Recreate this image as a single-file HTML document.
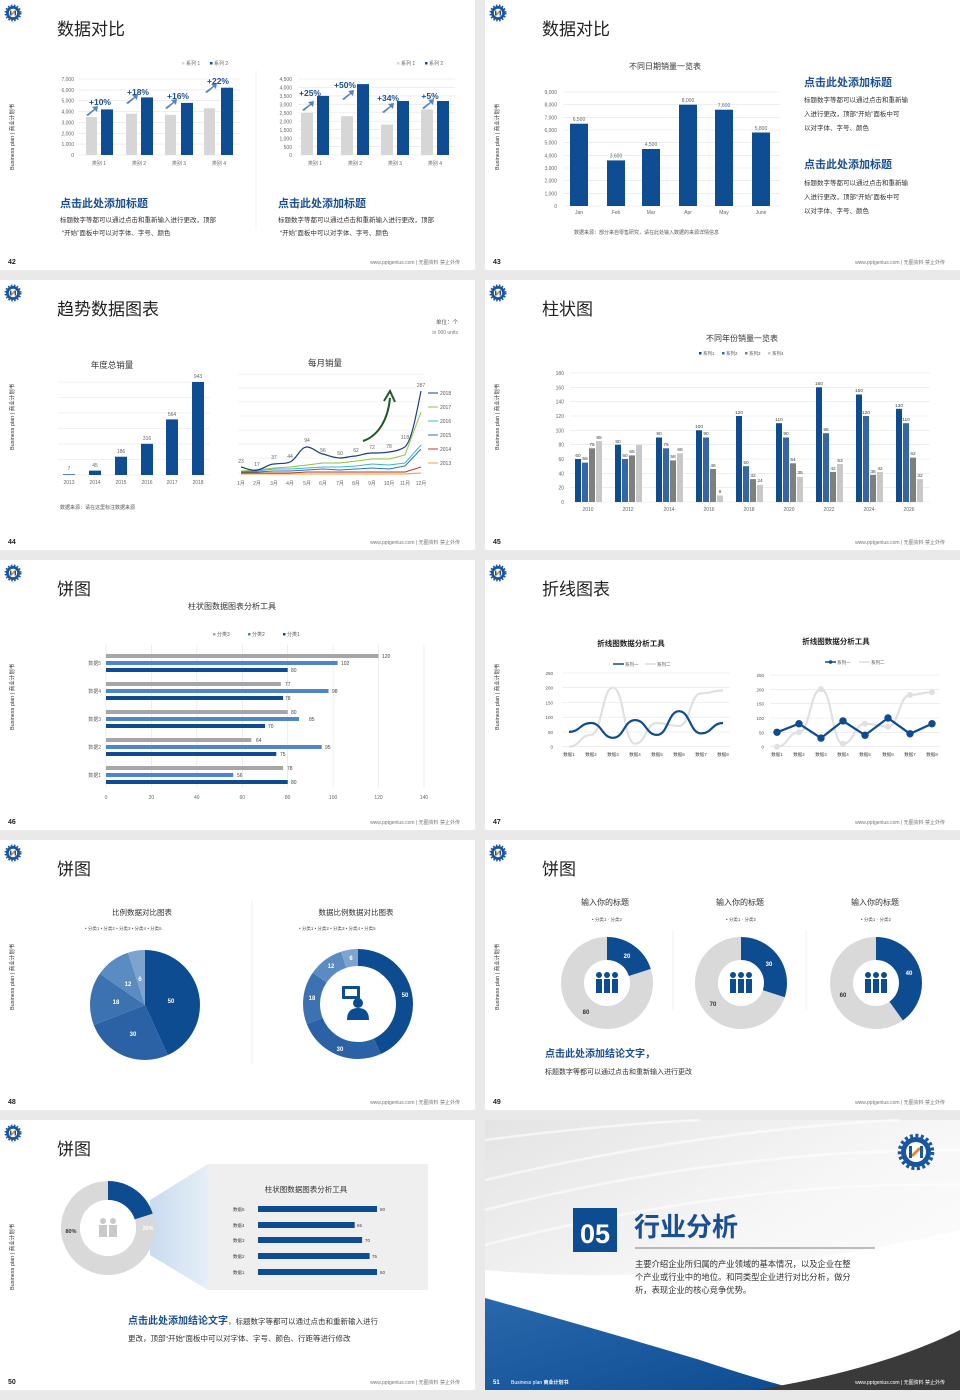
<!DOCTYPE html>
<html><head><meta charset="utf-8"><style>
html,body{margin:0;padding:0;background:#e9e9e9;}
svg{display:block;font-family:"Liberation Sans","Noto Sans CJK SC",sans-serif;}
.t{font-size:17px;fill:#222}
.f{font-size:5px;fill:#777}
.pn{font-size:7px;font-weight:bold;fill:#222}
.vt{font-size:5.5px;fill:#333}
.ax{font-size:5px;fill:#666}
.h{font-size:11px;font-weight:bold;fill:#1a4f94}
.p{font-size:6.5px;fill:#333}
.g{stroke:#e3e3e3;stroke-width:0.6}
</style></head><body>
<svg width="960" height="1400" viewBox="0 0 960 1400" xmlns="http://www.w3.org/2000/svg">
<defs>
<g id="logo"><circle cx="0" cy="0" r="7" fill="#1a56a0"/><circle cx="0" cy="0" r="7.5" fill="none" stroke="#1a56a0" stroke-width="2" stroke-dasharray="1.5 1.5"/><circle cx="0" cy="0" r="4.2" fill="#fff"/><path d="M-2 2 L2 -2" stroke="#e8882a" stroke-width="1.6"/><rect x="-3" y="-2.5" width="1.4" height="5" fill="#1a56a0"/><rect x="1.6" y="-2.5" width="1.4" height="5" fill="#1a56a0"/></g>
<linearGradient id="bg51" x1="0" y1="0" x2="1" y2="1"><stop offset="0" stop-color="#e4e4e4"/><stop offset="0.5" stop-color="#f7f7f7"/><stop offset="1" stop-color="#ffffff"/></linearGradient>
<linearGradient id="blu51" x1="0" y1="0" x2="1" y2="1"><stop offset="0" stop-color="#2a68ac"/><stop offset="1" stop-color="#0e4c92"/></linearGradient>
<linearGradient id="fan" x1="0" y1="0" x2="1" y2="0"><stop offset="0" stop-color="#c9dbef"/><stop offset="1" stop-color="#e6eef8"/></linearGradient>
</defs>

<rect x="0" y="0" width="475" height="270" fill="#fff"/>
<rect x="485" y="0" width="475" height="270" fill="#fff"/>
<rect x="0" y="280" width="475" height="270" fill="#fff"/>
<rect x="485" y="280" width="475" height="270" fill="#fff"/>
<rect x="0" y="560" width="475" height="270" fill="#fff"/>
<rect x="485" y="560" width="475" height="270" fill="#fff"/>
<rect x="0" y="840" width="475" height="270" fill="#fff"/>
<rect x="485" y="840" width="475" height="270" fill="#fff"/>
<rect x="0" y="1120" width="475" height="270" fill="#fff"/>
<rect x="485" y="1120" width="475" height="270" fill="url(#bg51)"/>

<use href="#logo" x="13" y="13"/><use href="#logo" x="498" y="13"/>
<use href="#logo" x="13" y="293"/><use href="#logo" x="498" y="293"/>
<use href="#logo" x="13" y="573"/><use href="#logo" x="498" y="573"/>
<use href="#logo" x="13" y="853"/><use href="#logo" x="498" y="853"/>
<use href="#logo" x="13" y="1133"/>

<text class="t" x="57" y="35">数据对比</text>
<text class="t" x="542" y="35">数据对比</text>
<text class="t" x="57" y="315">趋势数据图表</text>
<text class="t" x="542" y="315">柱状图</text>
<text class="t" x="57" y="595">饼图</text>
<text class="t" x="542" y="595">折线图表</text>
<text class="t" x="57" y="875">饼图</text>
<text class="t" x="542" y="875">饼图</text>
<text class="t" x="57" y="1155">饼图</text>

<g class="vt">
<text transform="translate(14,170) rotate(-90)">Business plan | 商业计划书</text>
<text transform="translate(499,170) rotate(-90)">Business plan | 商业计划书</text>
<text transform="translate(14,450) rotate(-90)">Business plan | 商业计划书</text>
<text transform="translate(499,450) rotate(-90)">Business plan | 商业计划书</text>
<text transform="translate(14,730) rotate(-90)">Business plan | 商业计划书</text>
<text transform="translate(499,730) rotate(-90)">Business plan | 商业计划书</text>
<text transform="translate(14,1010) rotate(-90)">Business plan | 商业计划书</text>
<text transform="translate(499,1010) rotate(-90)">Business plan | 商业计划书</text>
<text transform="translate(14,1290) rotate(-90)">Business plan | 商业计划书</text>
</g>

<g class="pn">
<text x="8" y="264">42</text><text x="493" y="264">43</text>
<text x="8" y="544">44</text><text x="493" y="544">45</text>
<text x="8" y="824">46</text><text x="493" y="824">47</text>
<text x="8" y="1104">48</text><text x="493" y="1104">49</text>
<text x="8" y="1384">50</text>
</g>
<g class="f" text-anchor="end">
<text x="460" y="264">www.pptgenius.com | 无图资料 禁止外传</text><text x="945" y="264">www.pptgenius.com | 无图资料 禁止外传</text>
<text x="460" y="544">www.pptgenius.com | 无图资料 禁止外传</text><text x="945" y="544">www.pptgenius.com | 无图资料 禁止外传</text>
<text x="460" y="824">www.pptgenius.com | 无图资料 禁止外传</text><text x="945" y="824">www.pptgenius.com | 无图资料 禁止外传</text>
<text x="460" y="1104">www.pptgenius.com | 无图资料 禁止外传</text><text x="945" y="1104">www.pptgenius.com | 无图资料 禁止外传</text>
<text x="460" y="1384">www.pptgenius.com | 无图资料 禁止外传</text>
</g>

<!-- ===== SLIDE 42 ===== -->
<g class="g">
<line x1="78" y1="79" x2="240" y2="79"/><line x1="78" y1="89.9" x2="240" y2="89.9"/><line x1="78" y1="100.7" x2="240" y2="100.7"/><line x1="78" y1="111.6" x2="240" y2="111.6"/><line x1="78" y1="122.4" x2="240" y2="122.4"/><line x1="78" y1="133.3" x2="240" y2="133.3"/><line x1="78" y1="144.1" x2="240" y2="144.1"/><line x1="78" y1="155" x2="240" y2="155"/>
<line x1="298" y1="79" x2="455" y2="79"/><line x1="298" y1="87.4" x2="455" y2="87.4"/><line x1="298" y1="95.9" x2="455" y2="95.9"/><line x1="298" y1="104.3" x2="455" y2="104.3"/><line x1="298" y1="112.8" x2="455" y2="112.8"/><line x1="298" y1="121.2" x2="455" y2="121.2"/><line x1="298" y1="129.7" x2="455" y2="129.7"/><line x1="298" y1="138.1" x2="455" y2="138.1"/><line x1="298" y1="146.6" x2="455" y2="146.6"/><line x1="298" y1="155" x2="455" y2="155"/>
</g>
<line x1="256" y1="70" x2="256" y2="230" stroke="#eee" stroke-width="0.8"/>
<g class="ax" text-anchor="end">
<text x="74" y="81">7,000</text><text x="74" y="92">6,000</text><text x="74" y="102.5">5,000</text><text x="74" y="113.5">4,000</text><text x="74" y="124.5">3,000</text><text x="74" y="135.3">2,000</text><text x="74" y="146">1,000</text><text x="74" y="157">0</text>
<text x="292" y="81">4,500</text><text x="292" y="89.5">4,000</text><text x="292" y="98">3,500</text><text x="292" y="106.5">3,000</text><text x="292" y="115">2,500</text><text x="292" y="123.5">2,000</text><text x="292" y="132">1,500</text><text x="292" y="140.5">1,000</text><text x="292" y="149">500</text><text x="292" y="157">0</text>
</g>
<g class="ax" text-anchor="middle">
<text x="99" y="165">类别 1</text><text x="139" y="165">类别 2</text><text x="179" y="165">类别 3</text><text x="219" y="165">类别 4</text>
<text x="315" y="165">类别 1</text><text x="355" y="165">类别 2</text><text x="395" y="165">类别 3</text><text x="435" y="165">类别 4</text>
</g>
<g fill="#d6d6d6">
<rect x="86" y="117" width="11" height="38"/><rect x="126" y="113.7" width="11" height="41.3"/><rect x="165" y="114.8" width="11" height="40.2"/><rect x="204" y="108.3" width="11" height="46.7"/>
<rect x="301" y="112.8" width="12" height="42.2"/><rect x="341" y="116.2" width="12" height="38.8"/><rect x="381" y="124.6" width="12" height="30.4"/><rect x="421" y="109.4" width="12" height="45.6"/>
</g>
<g fill="#0f4d93">
<rect x="101" y="109.4" width="12" height="45.6"/><rect x="141" y="97.4" width="12" height="57.6"/><rect x="181" y="102.9" width="12" height="52.1"/><rect x="221" y="87.7" width="12" height="67.3"/>
<rect x="317" y="95.9" width="12" height="59.1"/><rect x="357" y="84.1" width="12" height="70.9"/><rect x="397" y="101" width="12" height="54"/><rect x="437" y="101" width="12" height="54"/>
</g>
<g fill="#3a72b5" opacity="0.85">
<path d="M86 115 l8 -6 l-2 -2 l6 -1 l-1 6 l-2 -2 l-7 6z"/><path d="M126 103 l8 -6 l-2 -2 l6 -1 l-1 6 l-2 -2 l-7 6z"/><path d="M165 108 l8 -6 l-2 -2 l6 -1 l-1 6 l-2 -2 l-7 6z"/><path d="M205 92 l8 -6 l-2 -2 l6 -1 l-1 6 l-2 -2 l-7 6z"/>
<path d="M302 110 l8 -6 l-2 -2 l6 -1 l-1 6 l-2 -2 l-7 6z"/><path d="M342 99 l8 -6 l-2 -2 l6 -1 l-1 6 l-2 -2 l-7 6z"/><path d="M382 112 l8 -6 l-2 -2 l6 -1 l-1 6 l-2 -2 l-7 6z"/><path d="M422 108 l8 -6 l-2 -2 l6 -1 l-1 6 l-2 -2 l-7 6z"/>
</g>
<g font-size="8.5" font-weight="bold" fill="#1a4f94" text-anchor="middle">
<text x="100" y="105">+10%</text><text x="138" y="95">+18%</text><text x="178" y="99">+16%</text><text x="218" y="84">+22%</text>
<text x="310" y="96">+25%</text><text x="345" y="88">+50%</text><text x="388" y="101">+34%</text><text x="430" y="99">+5%</text>
</g>
<g font-size="5" fill="#666">
<rect x="182" y="62" width="2.5" height="2.5" fill="#d6d6d6"/><text x="186" y="65">系列 1</text><rect x="210" y="62" width="2.5" height="2.5" fill="#0f4d93"/><text x="214" y="65">系列 2</text>
<rect x="397" y="62" width="2.5" height="2.5" fill="#d6d6d6"/><text x="401" y="65">系列 1</text><rect x="425" y="62" width="2.5" height="2.5" fill="#0f4d93"/><text x="429" y="65">系列 2</text>
</g>
<text class="h" x="60" y="207">点击此处添加标题</text>
<text class="p" x="60" y="222">标题数字等都可以通过点击和重新输入进行更改，顶部</text>
<text class="p" x="62" y="235">“开始”面板中可以对字体、字号、颜色</text>
<text class="h" x="278" y="207">点击此处添加标题</text>
<text class="p" x="278" y="222">标题数字等都可以通过点击和重新输入进行更改，顶部</text>
<text class="p" x="280" y="235">“开始”面板中可以对字体、字号、颜色</text>

<!-- ===== SLIDE 43 ===== -->
<text x="665" y="69" font-size="8" fill="#333" text-anchor="middle">不同日期销量一览表</text>
<g class="g">
<line x1="563" y1="92" x2="780" y2="92"/><line x1="563" y1="104.7" x2="780" y2="104.7"/><line x1="563" y1="117.3" x2="780" y2="117.3"/><line x1="563" y1="130" x2="780" y2="130"/><line x1="563" y1="142.7" x2="780" y2="142.7"/><line x1="563" y1="155.3" x2="780" y2="155.3"/><line x1="563" y1="168" x2="780" y2="168"/><line x1="563" y1="180.7" x2="780" y2="180.7"/><line x1="563" y1="193.3" x2="780" y2="193.3"/><line x1="563" y1="206" x2="780" y2="206"/>
</g>
<g class="ax" text-anchor="end">
<text x="557" y="94">9,000</text><text x="557" y="106.7">8,000</text><text x="557" y="119.3">7,000</text><text x="557" y="132">6,000</text><text x="557" y="144.7">5,000</text><text x="557" y="157.3">4,000</text><text x="557" y="170">3,000</text><text x="557" y="182.7">2,000</text><text x="557" y="195.3">1,000</text><text x="557" y="208">0</text>
</g>
<g fill="#0f4d93">
<rect x="570" y="123.7" width="18" height="82.3"/><rect x="607" y="160.4" width="18" height="45.6"/><rect x="642" y="149" width="18" height="57"/><rect x="679" y="104.7" width="18" height="101.3"/><rect x="715" y="109.7" width="18" height="96.3"/><rect x="752" y="132.5" width="18" height="73.5"/>
</g>
<g class="ax" text-anchor="middle">
<text x="579" y="121">6,500</text><text x="616" y="157.5">3,600</text><text x="651" y="146">4,500</text><text x="688" y="102">8,000</text><text x="724" y="107">7,600</text><text x="761" y="130">5,800</text>
<text x="579" y="214">Jan</text><text x="616" y="214">Feb</text><text x="651" y="214">Mar</text><text x="688" y="214">Apr</text><text x="724" y="214">May</text><text x="761" y="214">June</text>
</g>
<text x="574" y="234" font-size="5" fill="#555">数据来源：部分来自零售研究，请在此处输入数据的来源详情信息</text>
<text class="h" x="804" y="86">点击此处添加标题</text>
<text class="p" x="804" y="102">标题数字等都可以通过点击和重新输</text>
<text class="p" x="804" y="116">入进行更改，顶部“开始”面板中可</text>
<text class="p" x="804" y="130">以对字体、字号、颜色</text>
<text class="h" x="804" y="168">点击此处添加标题</text>
<text class="p" x="804" y="185">标题数字等都可以通过点击和重新输</text>
<text class="p" x="804" y="199">入进行更改，顶部“开始”面板中可</text>
<text class="p" x="804" y="213">以对字体、字号、颜色</text>

<!-- ===== SLIDE 44 ===== -->
<text x="458" y="324" font-size="5.5" fill="#555" text-anchor="end">单位：个</text>
<text x="458" y="334" font-size="5" fill="#777" text-anchor="end">in 000 units</text>
<text x="112" y="368" font-size="8.5" fill="#333" text-anchor="middle">年度总销量</text>
<g class="g">
<line x1="58" y1="382" x2="210" y2="382"/><line x1="58" y1="397.5" x2="210" y2="397.5"/><line x1="58" y1="413" x2="210" y2="413"/><line x1="58" y1="428.5" x2="210" y2="428.5"/><line x1="58" y1="444" x2="210" y2="444"/><line x1="58" y1="459.5" x2="210" y2="459.5"/><line x1="58" y1="475" x2="210" y2="475"/>
</g>
<g fill="#0f4d93">
<rect x="63" y="474.3" width="12" height="0.7"/><rect x="89" y="470.6" width="12" height="4.4"/><rect x="115" y="456.7" width="12" height="18.3"/><rect x="141" y="443.8" width="12" height="31.2"/><rect x="166" y="419.4" width="12" height="55.6"/><rect x="192" y="382" width="12" height="93"/>
</g>
<g class="ax" text-anchor="middle">
<text x="69" y="470">7</text><text x="95" y="467">45</text><text x="121" y="453">186</text><text x="147" y="440">316</text><text x="172" y="416">564</text><text x="198" y="378">943</text>
<text x="69" y="484">2013</text><text x="95" y="484">2014</text><text x="121" y="484">2015</text><text x="147" y="484">2016</text><text x="172" y="484">2017</text><text x="198" y="484">2018</text>
</g>
<text x="60" y="509" font-size="5" fill="#555">数据来源：请在这里标注数据来源</text>
<text x="325" y="366" font-size="8.5" fill="#333" text-anchor="middle">每月销量</text>
<g class="g">
<line x1="238" y1="374" x2="425" y2="374"/><line x1="238" y1="388" x2="425" y2="388"/><line x1="238" y1="402" x2="425" y2="402"/><line x1="238" y1="416" x2="425" y2="416"/><line x1="238" y1="430" x2="425" y2="430"/><line x1="238" y1="444" x2="425" y2="444"/><line x1="238" y1="458" x2="425" y2="458"/><line x1="238" y1="473" x2="425" y2="473"/>
</g>
<g fill="none" stroke-width="1" stroke-linejoin="round">
<polyline stroke="#f0a030" points="241,474 257,474 274,474 290,474 307,474 323,474 340,474 356,474 372,474 389,474 405,474 421,473"/>
<polyline stroke="#c0392b" points="241,473 257,473 274,473 290,473 307,472 323,472 340,472 356,472 372,472 389,472 405,472 421,467"/>
<polyline stroke="#2e75b6" points="241,472 257,472 274,471 290,471 307,470 323,469 340,470 356,469 372,468 389,469 405,466 421,449"/>
<polyline stroke="#3ab4e0" points="241,471 257,471 274,469 290,469 307,468 323,467 340,467 356,466 372,464 389,465 405,463 421,445"/>
<polyline stroke="#8dc63f" points="241,471 257,470 274,468 290,467 307,465 323,463 340,463 356,461 372,459 389,459 405,455 421,412"/>
<path stroke="#1a3f7a" stroke-width="1.2" d="M241,467 C248,469 252,471 257,470 C264,469 268,464 274,464 C282,463 286,464 290,462 C297,459 300,447 307,447 C313,447 317,453 323,454 C330,456 334,458 340,458 C346,458 350,456 356,456 C362,455 366,453 372,453 C379,453 383,453 389,452 C396,451 400,450 405,447 C412,440 416,415 421,391"/>
</g>
<path d="M363,441 C378,436 388,420 390,398" stroke="#1d5a2a" stroke-width="2" fill="none"/>
<path d="M384,401 L390,391 L395,402" stroke="#1d5a2a" stroke-width="2" fill="none"/>
<g class="ax" text-anchor="middle" fill="#333">
<text x="241" y="463">23</text><text x="257" y="466">17</text><text x="274" y="459">37</text><text x="290" y="458">44</text><text x="307" y="442">94</text><text x="323" y="452">56</text><text x="340" y="455">50</text><text x="356" y="452">62</text><text x="372" y="449">72</text><text x="389" y="448">78</text><text x="405" y="439">118</text><text x="421" y="387">287</text>
<text x="241" y="485">1月</text><text x="257" y="485">2月</text><text x="274" y="485">3月</text><text x="290" y="485">4月</text><text x="307" y="485">5月</text><text x="323" y="485">6月</text><text x="340" y="485">7月</text><text x="356" y="485">8月</text><text x="372" y="485">9月</text><text x="389" y="485">10月</text><text x="405" y="485">11月</text><text x="421" y="485">12月</text>
</g>
<g font-size="5" fill="#555" stroke-width="1">
<line x1="428" y1="393" x2="438" y2="393" stroke="#1a3f7a"/><text x="440" y="395">2018</text>
<line x1="428" y1="407" x2="438" y2="407" stroke="#8dc63f"/><text x="440" y="409">2017</text>
<line x1="428" y1="421" x2="438" y2="421" stroke="#3ab4e0"/><text x="440" y="423">2016</text>
<line x1="428" y1="435" x2="438" y2="435" stroke="#2e75b6"/><text x="440" y="437">2015</text>
<line x1="428" y1="449" x2="438" y2="449" stroke="#c0392b"/><text x="440" y="451">2014</text>
<line x1="428" y1="463" x2="438" y2="463" stroke="#f0a030"/><text x="440" y="465">2013</text>
</g>

<!-- ===== SLIDE 45 ===== -->
<text x="742" y="341" font-size="8" fill="#333" text-anchor="middle">不同年份销量一览表</text>
<g font-size="4.5" fill="#555">
<rect x="699" y="352" width="2.5" height="2.5" fill="#0e4c92"/><text x="703" y="355">系列1</text>
<rect x="722" y="352" width="2.5" height="2.5" fill="#3566a8"/><text x="726" y="355">系列2</text>
<rect x="745" y="352" width="2.5" height="2.5" fill="#7f7f7f"/><text x="749" y="355">系列3</text>
<rect x="768" y="352" width="2.5" height="2.5" fill="#c8c8c8"/><text x="772" y="355">系列4</text>
</g>
<g class="g">
<line x1="570" y1="373" x2="930" y2="373"/><line x1="570" y1="387.3" x2="930" y2="387.3"/><line x1="570" y1="401.7" x2="930" y2="401.7"/><line x1="570" y1="416" x2="930" y2="416"/><line x1="570" y1="430.3" x2="930" y2="430.3"/><line x1="570" y1="444.7" x2="930" y2="444.7"/><line x1="570" y1="459" x2="930" y2="459"/><line x1="570" y1="473.3" x2="930" y2="473.3"/><line x1="570" y1="487.7" x2="930" y2="487.7"/><line x1="570" y1="502" x2="930" y2="502"/>
</g>
<g class="ax" text-anchor="end">
<text x="564" y="375">180</text><text x="564" y="389.3">160</text><text x="564" y="403.7">140</text><text x="564" y="418">120</text><text x="564" y="432.3">100</text><text x="564" y="446.7">80</text><text x="564" y="461">60</text><text x="564" y="475.3">40</text><text x="564" y="489.7">20</text><text x="564" y="504">0</text>
</g>
<g fill="#0e4c92">
<rect x="575" y="459" width="6" height="43"/><rect x="615" y="444.7" width="6" height="57.3"/><rect x="656" y="437.5" width="6" height="64.5"/><rect x="696" y="430.3" width="6" height="71.7"/><rect x="736" y="416" width="6" height="86"/><rect x="776" y="423.2" width="6" height="78.8"/><rect x="816" y="387.3" width="6" height="114.7"/><rect x="856" y="394.5" width="6" height="107.5"/><rect x="896" y="408.8" width="6" height="93.2"/>
</g>
<g fill="#3566a8">
<rect x="582" y="462.6" width="6" height="39.4"/><rect x="622" y="459" width="6" height="43"/><rect x="663" y="448.3" width="6" height="53.7"/><rect x="703" y="437.5" width="6" height="64.5"/><rect x="743" y="466.2" width="6" height="35.8"/><rect x="783" y="437.5" width="6" height="64.5"/><rect x="823" y="433.2" width="6" height="68.8"/><rect x="863" y="416" width="6" height="86"/><rect x="903" y="423.2" width="6" height="78.8"/>
</g>
<g fill="#7f7f7f">
<rect x="589" y="448.3" width="6" height="53.7"/><rect x="629" y="455.4" width="6" height="46.6"/><rect x="670" y="460.4" width="6" height="41.6"/><rect x="710" y="469" width="6" height="33"/><rect x="750" y="479.1" width="6" height="22.9"/><rect x="790" y="463.3" width="6" height="38.7"/><rect x="830" y="471.9" width="6" height="30.1"/><rect x="870" y="474.8" width="6" height="27.2"/><rect x="910" y="457.6" width="6" height="44.4"/>
</g>
<g fill="#c8c8c8">
<rect x="596" y="441.1" width="6" height="60.9"/><rect x="636" y="444.7" width="6" height="57.3"/><rect x="677" y="453.3" width="6" height="48.7"/><rect x="717" y="495.5" width="6" height="6.5"/><rect x="757" y="484.8" width="6" height="17.2"/><rect x="797" y="476.9" width="6" height="25.1"/><rect x="837" y="464" width="6" height="38"/><rect x="877" y="471.9" width="6" height="30.1"/><rect x="917" y="479.1" width="6" height="22.9"/>
</g>
<g font-size="4.8" fill="#444" text-anchor="middle">
<text x="578" y="457">60</text><text x="585" y="460">55</text><text x="592" y="446">75</text><text x="599" y="439">85</text>
<text x="618" y="443">80</text><text x="625" y="457">60</text><text x="632" y="453">65</text>
<text x="659" y="435">90</text><text x="666" y="446">75</text><text x="673" y="458">58</text><text x="680" y="451">68</text>
<text x="699" y="428">100</text><text x="706" y="435">90</text><text x="713" y="467">46</text><text x="720" y="493">9</text>
<text x="739" y="414">120</text><text x="746" y="464">50</text><text x="753" y="477">32</text><text x="760" y="482">24</text>
<text x="779" y="421">110</text><text x="786" y="435">90</text><text x="793" y="461">54</text><text x="800" y="474">35</text>
<text x="819" y="385">160</text><text x="826" y="431">96</text><text x="833" y="470">42</text><text x="840" y="462">53</text>
<text x="859" y="392">150</text><text x="866" y="414">120</text><text x="873" y="473">38</text><text x="880" y="470">42</text>
<text x="899" y="407">130</text><text x="906" y="421">110</text><text x="913" y="455">62</text><text x="920" y="477">32</text>
</g>
<g class="ax" text-anchor="middle">
<text x="588" y="511">2010</text><text x="628" y="511">2012</text><text x="669" y="511">2014</text><text x="709" y="511">2016</text><text x="749" y="511">2018</text><text x="789" y="511">2020</text><text x="829" y="511">2022</text><text x="869" y="511">2024</text><text x="909" y="511">2026</text>
</g>

<!-- ===== SLIDE 46 ===== -->
<text x="232" y="609" font-size="8" fill="#333" text-anchor="middle">柱状图数据图表分析工具</text>
<g font-size="5" fill="#555">
<rect x="213" y="633" width="2.5" height="2.5" fill="#a6a6a6"/><text x="217" y="636">分类3</text>
<rect x="248" y="633" width="2.5" height="2.5" fill="#4f86c6"/><text x="252" y="636">分类2</text>
<rect x="283" y="633" width="2.5" height="2.5" fill="#0e4c92"/><text x="287" y="636">分类1</text>
</g>
<g class="g">
<line x1="106" y1="645" x2="106" y2="788"/><line x1="151.4" y1="645" x2="151.4" y2="788"/><line x1="196.8" y1="645" x2="196.8" y2="788"/><line x1="242.3" y1="645" x2="242.3" y2="788"/><line x1="287.7" y1="645" x2="287.7" y2="788"/><line x1="333.1" y1="645" x2="333.1" y2="788"/><line x1="378.5" y1="645" x2="378.5" y2="788"/><line x1="424" y1="645" x2="424" y2="788"/>
</g>
<g fill="#a6a6a6">
<rect x="106" y="654" width="272.5" height="4"/><rect x="106" y="682" width="174.9" height="4"/><rect x="106" y="710" width="181.7" height="4"/><rect x="106" y="738" width="145.3" height="4"/><rect x="106" y="766" width="177.1" height="4"/>
</g>
<g fill="#4f86c6">
<rect x="106" y="661" width="231.6" height="4"/><rect x="106" y="689" width="222.5" height="4"/><rect x="106" y="717" width="193" height="4"/><rect x="106" y="745" width="215.7" height="4"/><rect x="106" y="773" width="127.2" height="4"/>
</g>
<g fill="#0e4c92">
<rect x="106" y="668" width="181.7" height="4"/><rect x="106" y="696" width="177.1" height="4"/><rect x="106" y="724" width="159" height="4"/><rect x="106" y="752" width="170.3" height="4"/><rect x="106" y="780" width="181.7" height="4"/>
</g>
<g font-size="5" fill="#444">
<text x="382" y="658">120</text><text x="341" y="665">102</text><text x="291" y="672">80</text>
<text x="285" y="686">77</text><text x="332" y="693">98</text><text x="285" y="700">78</text>
<text x="291" y="714">80</text><text x="309" y="721">85</text><text x="268" y="728">70</text>
<text x="256" y="742">64</text><text x="325" y="749">95</text><text x="280" y="756">75</text>
<text x="287" y="770">78</text><text x="237" y="777">56</text><text x="291" y="784">80</text>
</g>
<g class="ax" text-anchor="end">
<text x="101" y="665">数据5</text><text x="101" y="693">数据4</text><text x="101" y="721">数据3</text><text x="101" y="749">数据2</text><text x="101" y="777">数据1</text>
</g>
<g class="ax" text-anchor="middle">
<text x="106" y="799">0</text><text x="151.4" y="799">20</text><text x="196.8" y="799">40</text><text x="242.3" y="799">60</text><text x="287.7" y="799">80</text><text x="333.1" y="799">100</text><text x="378.5" y="799">120</text><text x="424" y="799">140</text>
</g>

<!-- ===== SLIDE 47 ===== -->
<text x="631" y="646" font-size="7.5" font-weight="bold" fill="#222" text-anchor="middle">折线图数据分析工具</text>
<text x="836" y="644" font-size="7.5" font-weight="bold" fill="#222" text-anchor="middle">折线图数据分析工具</text>
<g font-size="4.5" fill="#555">
<line x1="613" y1="664" x2="624" y2="664" stroke="#0e4c92" stroke-width="1.5"/><text x="625" y="666">系列一</text>
<line x1="645" y1="664" x2="656" y2="664" stroke="#ddd" stroke-width="1.5"/><text x="657" y="666">系列二</text>
<line x1="825" y1="662" x2="836" y2="662" stroke="#0e4c92" stroke-width="1.5"/><circle cx="830.5" cy="662" r="1.8" fill="#0e4c92"/><text x="837" y="664">系列一</text>
<line x1="859" y1="662" x2="870" y2="662" stroke="#ddd" stroke-width="1.5"/><text x="871" y="664">系列二</text>
</g>
<g class="g">
<line x1="562" y1="673" x2="730" y2="673"/><line x1="562" y1="687.7" x2="730" y2="687.7"/><line x1="562" y1="702.5" x2="730" y2="702.5"/><line x1="562" y1="717.2" x2="730" y2="717.2"/><line x1="562" y1="732" x2="730" y2="732"/><line x1="562" y1="746.7" x2="730" y2="746.7"/>
<line x1="770" y1="675" x2="940" y2="675"/><line x1="770" y1="689.3" x2="940" y2="689.3"/><line x1="770" y1="703.7" x2="940" y2="703.7"/><line x1="770" y1="718" x2="940" y2="718"/><line x1="770" y1="732.3" x2="940" y2="732.3"/><line x1="770" y1="746.7" x2="940" y2="746.7"/>
</g>
<g font-size="4.5" fill="#555" text-anchor="end">
<text x="553" y="675">250</text><text x="553" y="689.7">200</text><text x="553" y="704.5">150</text><text x="553" y="719.2">100</text><text x="553" y="734">50</text><text x="553" y="748.7">0</text>
<text x="764" y="677">250</text><text x="764" y="691.3">200</text><text x="764" y="705.7">150</text><text x="764" y="720">100</text><text x="764" y="734.3">50</text><text x="764" y="748.7">0</text>
</g>
<g fill="none" stroke-width="2.2">
<path stroke="#e0e0e0" d="M569,746.7 C580,746.7 580,734.9 591,734.9 C602,734.9 602,687.5 613,687.5 C624,687.5 624,743.7 635,743.7 C646,743.7 646,723 657,723 C668,723 668,726 679,726 C690,726 690,693.4 701,693.4 C712,693.4 712,690.5 723,690.5"/>
<path stroke="#0e4c92" d="M569,731.9 C580,731.9 580,723 591,723 C602,723 602,737.8 613,737.8 C624,737.8 624,720.1 635,720.1 C646,720.1 646,734.9 657,734.9 C668,734.9 668,711.2 679,711.2 C690,711.2 690,733.4 701,733.4 C712,733.4 712,723 723,723"/>
<path stroke="#e0e0e0" d="M777,746.7 C788,746.7 788,732.3 799,732.3 C810,732.3 810,689.3 821,689.3 C832,689.3 832,743.8 843,743.8 C854,743.8 854,723.7 865,723.7 C876,723.7 876,726.6 888,726.6 C899,726.6 899,695 910,695 C921,695 921,692.2 932,692.2"/>
<polyline stroke="#0e4c92" points="777,732.3 799,723.7 821,738.1 843,720.9 865,735.2 888,718 910,733.8 932,723.7"/>
</g>
<g fill="#e0e0e0">
<circle cx="777" cy="746.7" r="3"/><circle cx="799" cy="732.3" r="3"/><circle cx="821" cy="689.3" r="3"/><circle cx="843" cy="743.8" r="3"/><circle cx="865" cy="723.7" r="3"/><circle cx="888" cy="726.6" r="3"/><circle cx="910" cy="695" r="3"/><circle cx="932" cy="692.2" r="3"/>
</g>
<g fill="#0e4c92">
<circle cx="777" cy="732.3" r="3.7"/><circle cx="799" cy="723.7" r="3.7"/><circle cx="821" cy="738.1" r="3.7"/><circle cx="843" cy="720.9" r="3.7"/><circle cx="865" cy="735.2" r="3.7"/><circle cx="888" cy="718" r="3.7"/><circle cx="910" cy="733.8" r="3.7"/><circle cx="932" cy="723.7" r="3.7"/>
</g>
<g font-size="4.5" fill="#444" text-anchor="middle">
<text x="569" y="756">数据1</text><text x="591" y="756">数据2</text><text x="613" y="756">数据3</text><text x="635" y="756">数据4</text><text x="657" y="756">数据5</text><text x="679" y="756">数据6</text><text x="701" y="756">数据7</text><text x="723" y="756">数据8</text>
<text x="777" y="756">数据1</text><text x="799" y="756">数据2</text><text x="821" y="756">数据3</text><text x="843" y="756">数据4</text><text x="865" y="756">数据5</text><text x="888" y="756">数据6</text><text x="910" y="756">数据7</text><text x="932" y="756">数据8</text>
</g>

<!-- ===== SLIDE 48 ===== -->
<line x1="252" y1="900" x2="252" y2="1065" stroke="#eee" stroke-width="0.8"/>
<text x="142" y="915" font-size="7.5" fill="#333" text-anchor="middle">比例数据对比图表</text>
<text x="356" y="915" font-size="7.5" fill="#333" text-anchor="middle">数据比例数据对比图表</text>
<g font-size="4.5" fill="#555">
<text x="85" y="930">• 分类1 • 分类2 • 分类3 • 分类4 • 分类5</text>
<text x="299" y="930">• 分类1 • 分类2 • 分类3 • 分类4 • 分类5</text>
</g>
<g transform="rotate(-90 145 1005)" fill="none" stroke-width="55">
<circle cx="145" cy="1005" r="27.5" stroke="#0e4c92" stroke-dasharray="74.48 200"/>
<circle cx="145" cy="1005" r="27.5" stroke="#2a62a5" stroke-dasharray="44.69 200" stroke-dashoffset="-74.48"/>
<circle cx="145" cy="1005" r="27.5" stroke="#3d72b0" stroke-dasharray="26.81 200" stroke-dashoffset="-119.17"/>
<circle cx="145" cy="1005" r="27.5" stroke="#5a8cc2" stroke-dasharray="17.88 200" stroke-dashoffset="-145.98"/>
<circle cx="145" cy="1005" r="27.5" stroke="#7da3cf" stroke-dasharray="8.94 200" stroke-dashoffset="-163.86"/>
</g>
<g transform="rotate(-90 358 1004)" fill="none" stroke-width="17">
<circle cx="358" cy="1004" r="46.5" stroke="#0e4c92" stroke-dasharray="125.95 300"/>
<circle cx="358" cy="1004" r="46.5" stroke="#2a62a5" stroke-dasharray="75.56 300" stroke-dashoffset="-125.95"/>
<circle cx="358" cy="1004" r="46.5" stroke="#3d72b0" stroke-dasharray="45.34 300" stroke-dashoffset="-201.51"/>
<circle cx="358" cy="1004" r="46.5" stroke="#5a8cc2" stroke-dasharray="30.22 300" stroke-dashoffset="-246.85"/>
<circle cx="358" cy="1004" r="46.5" stroke="#7da3cf" stroke-dasharray="15.11 300" stroke-dashoffset="-277.07"/>
</g>
<g font-size="6" font-weight="bold" fill="#fff" text-anchor="middle">
<text x="171" y="1003">50</text><text x="133" y="1036">30</text><text x="116" y="1004">18</text><text x="128" y="986">12</text><text x="140" y="981">6</text>
<text x="405" y="997">50</text><text x="340" y="1051">30</text><text x="312" y="1000">18</text><text x="331" y="968">12</text><text x="351" y="960">6</text>
</g>
<rect x="342" y="986" width="18" height="13" rx="1" fill="#0e4c92"/><rect x="345" y="989" width="12" height="7" fill="#fff"/>
<circle cx="358" cy="1003" r="5" fill="#0e4c92"/><path d="M347,1020 Q347,1008 358,1008 Q369,1008 369,1020 Z" fill="#0e4c92"/>

<!-- ===== SLIDE 49 ===== -->
<line x1="673" y1="930" x2="673" y2="1010" stroke="#eee" stroke-width="0.8"/>
<line x1="806" y1="930" x2="806" y2="1010" stroke="#eee" stroke-width="0.8"/>
<g font-size="8" fill="#333" text-anchor="middle">
<text x="605" y="905">输入你的标题</text><text x="740" y="905">输入你的标题</text><text x="875" y="905">输入你的标题</text>
</g>
<g font-size="4.5" fill="#555" text-anchor="middle">
<text x="607" y="921"><tspan fill="#0e4c92">•</tspan> 分类1  <tspan fill="#ccc">•</tspan> 分类2</text>
<text x="741" y="921"><tspan fill="#0e4c92">•</tspan> 分类1  <tspan fill="#ccc">•</tspan> 分类2</text>
<text x="876" y="921"><tspan fill="#0e4c92">•</tspan> 分类1  <tspan fill="#ccc">•</tspan> 分类2</text>
</g>
<g fill="none" stroke-width="23">
<circle cx="607" cy="983" r="34.5" stroke="#d9d9d9"/>
<circle cx="741" cy="983" r="34.5" stroke="#d9d9d9"/>
<circle cx="876" cy="983" r="34.5" stroke="#d9d9d9"/>
<circle cx="607" cy="983" r="34.5" stroke="#0e4c92" stroke-dasharray="43.35 300" transform="rotate(-90 607 983)"/>
<circle cx="741" cy="983" r="34.5" stroke="#0e4c92" stroke-dasharray="65.03 300" transform="rotate(-90 741 983)"/>
<circle cx="876" cy="983" r="34.5" stroke="#0e4c92" stroke-dasharray="86.7 300" transform="rotate(-90 876 983)"/>
</g>
<g fill="#0e4c92">
<g transform="translate(607,983)"><circle cx="-8" cy="-8" r="3"/><circle cx="0" cy="-8" r="3"/><circle cx="8" cy="-8" r="3"/><rect x="-11" y="-4" width="6" height="14"/><rect x="-3" y="-4" width="6" height="14"/><rect x="5" y="-4" width="6" height="14"/></g>
<g transform="translate(741,983)"><circle cx="-8" cy="-8" r="3"/><circle cx="0" cy="-8" r="3"/><circle cx="8" cy="-8" r="3"/><rect x="-11" y="-4" width="6" height="14"/><rect x="-3" y="-4" width="6" height="14"/><rect x="5" y="-4" width="6" height="14"/></g>
<g transform="translate(876,983)"><circle cx="-8" cy="-8" r="3"/><circle cx="0" cy="-8" r="3"/><circle cx="8" cy="-8" r="3"/><rect x="-11" y="-4" width="6" height="14"/><rect x="-3" y="-4" width="6" height="14"/><rect x="5" y="-4" width="6" height="14"/></g>
</g>
<g font-size="6" font-weight="bold" text-anchor="middle">
<text x="627" y="958" fill="#fff">20</text><text x="769" y="966" fill="#fff">30</text><text x="909" y="975" fill="#fff">40</text>
<text x="586" y="1014" fill="#333">80</text><text x="713" y="1006" fill="#333">70</text><text x="843" y="997" fill="#333">60</text>
</g>
<text x="545" y="1057" font-size="10" font-weight="bold" fill="#1a4f94">点击此处添加结论文字，</text>
<text x="545" y="1074" font-size="7" fill="#333">标题数字等都可以通过点击和重新输入进行更改</text>

<!-- ===== SLIDE 50 ===== -->
<rect x="208" y="1164" width="220" height="126" fill="#efefef"/>
<path d="M150,1200 L208,1164 L208,1290 L150,1255 Z" fill="url(#fan)"/>
<circle cx="108" cy="1228" r="37.5" fill="none" stroke="#d9d9d9" stroke-width="19"/>
<circle cx="108" cy="1228" r="37.5" fill="none" stroke="#0e4c92" stroke-width="19" stroke-dasharray="47.12 300" transform="rotate(-90 108 1228)"/>
<circle cx="108" cy="1228" r="28" fill="#fff"/>
<g fill="#c9c9c9" transform="translate(108,1228)"><circle cx="-5" cy="-7" r="3"/><circle cx="5" cy="-7" r="3"/><rect x="-9" y="-3" width="8" height="12"/><rect x="1" y="-3" width="8" height="12"/></g>
<text x="148" y="1230" font-size="5.5" font-weight="bold" fill="#fff" text-anchor="middle">20%</text>
<text x="71" y="1233" font-size="5.5" font-weight="bold" fill="#333" text-anchor="middle">80%</text>
<text x="306" y="1192" font-size="7.5" fill="#333" text-anchor="middle">柱状图数据图表分析工具</text>
<g fill="#0e4c92">
<rect x="258" y="1206" width="119" height="6"/><rect x="258" y="1222" width="96.7" height="6"/><rect x="258" y="1237" width="104.1" height="6"/><rect x="258" y="1253" width="111.6" height="6"/><rect x="258" y="1269" width="119" height="6"/>
</g>
<g font-size="4.5" fill="#444">
<text x="233" y="1211">数据5</text><text x="233" y="1227">数据4</text><text x="233" y="1242">数据3</text><text x="233" y="1258">数据2</text><text x="233" y="1274">数据1</text>
<text x="380" y="1211">80</text><text x="357" y="1227">65</text><text x="365" y="1242">70</text><text x="372" y="1258">75</text><text x="380" y="1274">80</text>
</g>
<text x="128" y="1324" font-size="7.5" fill="#333"><tspan font-size="10" font-weight="bold" fill="#1a4f94">点击此处添加结论文字</tspan>，标题数字等都可以通过点击和重新输入进行</text>
<text x="128" y="1341" font-size="7.5" fill="#333">更改，顶部“开始”面板中可以对字体、字号、颜色、行距等进行修改</text>

<!-- ===== SLIDE 51 ===== -->
<g fill="none" stroke="#ffffff" stroke-width="2.5" opacity="0.6">
<path d="M485,1180 Q700,1130 900,1120"/>
<path d="M485,1210 Q720,1150 960,1150"/>
<path d="M485,1245 Q740,1180 960,1185"/>
<path d="M485,1140 Q600,1125 700,1120"/>
</g>
<path d="M485,1270 Q700,1290 960,1230 L960,1390 L485,1390 Z" fill="#ffffff"/>
<path d="M485,1298 Q600,1330 700,1360 Q760,1380 800,1390 L485,1390 Z" fill="url(#blu51)"/>
<path d="M755,1390 Q880,1370 960,1330 L960,1390 Z" fill="#3a3a3a"/>
<g transform="translate(916,1152)"><circle r="15" fill="#1a56a0"/><circle r="16.5" fill="none" stroke="#1a56a0" stroke-width="3.5" stroke-dasharray="3 2.5"/><circle r="10" fill="#fff"/><path d="M-4 4 L4 -4" stroke="#e8882a" stroke-width="3"/><rect x="-7" y="-6" width="3" height="12" fill="#1a56a0"/><rect x="4" y="-6" width="3" height="12" fill="#1a56a0"/></g>
<rect x="573" y="1208" width="44" height="44" fill="#0e4c92"/>
<text x="595" y="1243" font-size="27" font-weight="bold" fill="#fff" text-anchor="middle">05</text>
<text x="634" y="1236" font-size="26" font-weight="bold" fill="#1a4f94">行业分析</text>
<line x1="635" y1="1248" x2="875" y2="1248" stroke="#555" stroke-width="0.7"/>
<g font-size="8.3" fill="#333">
<text x="635" y="1267">主要介绍企业所归属的产业领域的基本情况，以及企业在整</text>
<text x="635" y="1280">个产业或行业中的地位。和同类型企业进行对比分析，做分</text>
<text x="635" y="1293">析，表现企业的核心竞争优势。</text>
</g>
<text x="493" y="1384" font-size="6" font-weight="bold" fill="#fff">51</text>
<text x="511" y="1384" font-size="5" fill="#fff">Business plan  <tspan font-weight="bold">商业计划书</tspan></text>
<text x="945" y="1384" font-size="5" fill="#fff" text-anchor="end">www.pptgenius.com | 无图资料 禁止外传</text>
</svg>
</body></html>
